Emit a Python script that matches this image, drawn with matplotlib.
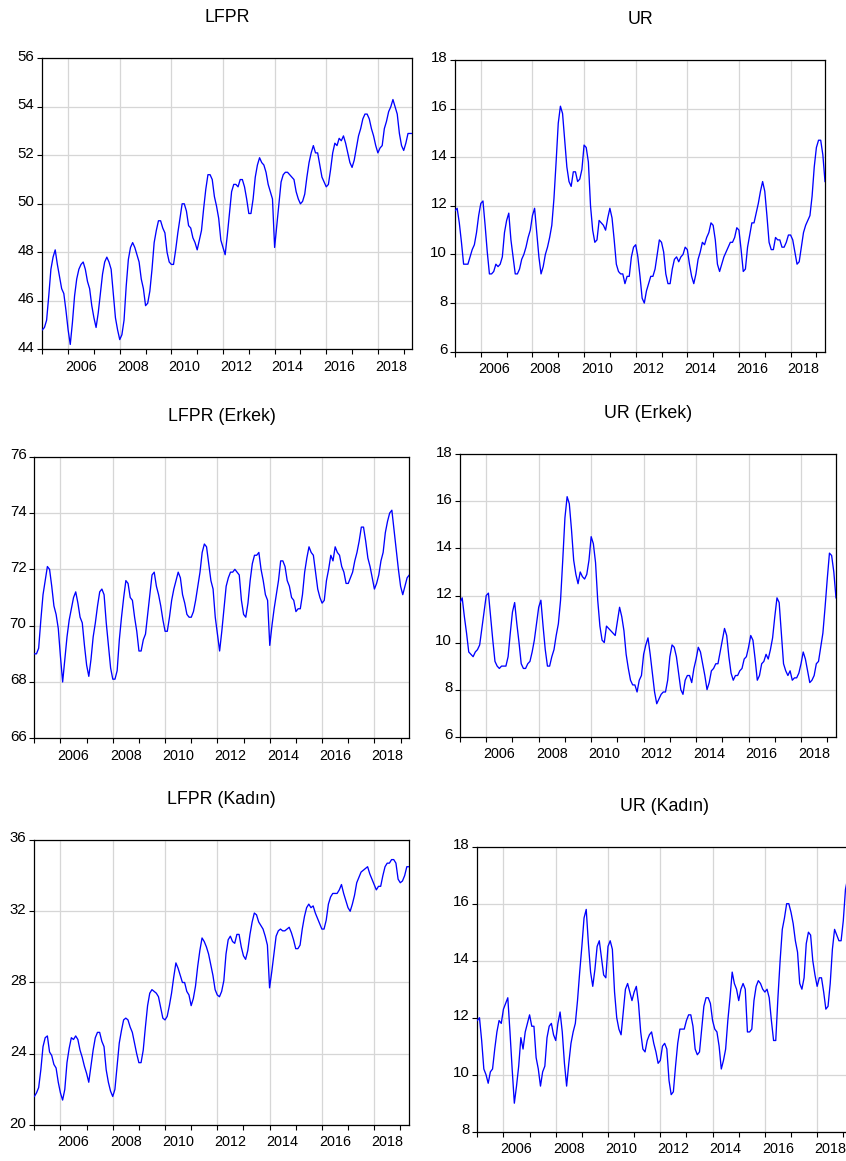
import matplotlib
matplotlib.use("Agg")
import matplotlib.pyplot as plt
import numpy as np
from matplotlib import font_manager
from matplotlib.transforms import ScaledTranslation

# ---------------- data (monthly, 2005M01 - 2019M05) ----------------
lfpr = [44.8, 44.9, 45.2, 46.2, 47.3, 47.8, 48.1, 47.5, 47.0, 46.5, 46.3, 45.6,
        44.8, 44.2, 45.1, 46.2, 46.9, 47.3, 47.5, 47.6, 47.3, 46.8, 46.5, 45.8,
        45.3, 44.9, 45.5, 46.3, 47.1, 47.6, 47.8, 47.6, 47.3, 46.3, 45.3, 44.8,
        44.4, 44.6, 45.2, 46.6, 47.7, 48.2, 48.4, 48.2, 47.9, 47.6, 46.9, 46.5,
        45.8, 45.9, 46.4, 47.3, 48.4, 48.9, 49.3, 49.3, 49.0, 48.8, 48.0, 47.6,
        47.5, 47.5, 48.1, 48.8, 49.4, 50.0, 50.0, 49.7, 49.1, 49.0, 48.6, 48.4,
        48.1, 48.5, 48.9, 49.8, 50.6, 51.2, 51.2, 51.0, 50.3, 49.9, 49.4, 48.5,
        48.2, 47.9, 48.7, 49.6, 50.5, 50.8, 50.8, 50.7, 51.0, 51.0, 50.7, 50.2,
        49.6, 49.6, 50.2, 51.1, 51.6, 51.9, 51.7, 51.6, 51.3, 50.8, 50.5, 50.2,
        48.2, 49.1, 50.0, 50.9, 51.2, 51.3, 51.3, 51.2, 51.1, 51.0, 50.5, 50.2,
        50.0, 50.1, 50.4, 51.1, 51.7, 52.1, 52.4, 52.1, 52.1, 51.6, 51.1, 50.9,
        50.7, 50.8, 51.4, 52.1, 52.5, 52.4, 52.7, 52.6, 52.8, 52.5, 52.1, 51.7,
        51.5, 51.8, 52.3, 52.8, 53.1, 53.5, 53.7, 53.7, 53.5, 53.1, 52.8, 52.4,
        52.1, 52.3, 52.4, 53.1, 53.4, 53.8, 54.0, 54.3, 54.0, 53.7, 52.9, 52.4,
        52.2, 52.5, 52.9, 52.9, 52.9]

ur = [11.8, 11.9, 11.3, 10.5, 9.6, 9.6, 9.6, 9.9, 10.2, 10.4, 10.9, 11.6,
      12.1, 12.2, 11.2, 10.1, 9.2, 9.2, 9.3, 9.6, 9.5, 9.6, 9.9, 10.9,
      11.4, 11.7, 10.6, 9.9, 9.2, 9.2, 9.4, 9.8, 10.0, 10.3, 10.7, 11.0,
      11.6, 11.9, 10.9, 9.9, 9.2, 9.5, 10.0, 10.3, 10.7, 11.2, 12.3, 13.8,
      15.4, 16.1, 15.8, 14.7, 13.6, 13.0, 12.8, 13.4, 13.4, 13.0, 13.1, 13.5,
      14.5, 14.4, 13.8, 12.0, 11.0, 10.5, 10.6, 11.4, 11.3, 11.2, 11.0, 11.5,
      11.9, 11.5, 10.6, 9.6, 9.3, 9.2, 9.2, 8.8, 9.1, 9.1, 9.9, 10.3,
      10.4, 9.9, 9.1, 8.2, 8.0, 8.5, 8.8, 9.1, 9.1, 9.4, 10.0, 10.6,
      10.5, 10.1, 9.2, 8.8, 8.8, 9.4, 9.8, 9.9, 9.7, 9.9, 10.0, 10.3,
      10.2, 9.6, 9.1, 8.8, 9.2, 9.8, 10.1, 10.5, 10.4, 10.7, 10.9, 11.3,
      11.2, 10.6, 9.6, 9.3, 9.6, 9.9, 10.1, 10.3, 10.5, 10.5, 10.7, 11.1,
      11.0, 10.2, 9.3, 9.4, 10.3, 10.8, 11.3, 11.3, 11.7, 12.1, 12.6, 13.0,
      12.6, 11.6, 10.5, 10.2, 10.2, 10.7, 10.6, 10.6, 10.3, 10.3, 10.5, 10.8,
      10.8, 10.6, 10.1, 9.6, 9.7, 10.3, 10.9, 11.2, 11.4, 11.6, 12.4, 13.6,
      14.4, 14.7, 14.7, 14.1, 13.0]

lfpr_erkek = [69.0, 69.0, 69.2, 70.2, 71.1, 71.6, 72.1, 72.0, 71.4, 70.7, 70.4, 69.9,
              68.9, 68.0, 68.8, 69.6, 70.2, 70.6, 71.0, 71.2, 70.8, 70.3, 70.1, 69.3,
              68.6, 68.2, 68.8, 69.6, 70.1, 70.7, 71.2, 71.3, 71.1, 70.1, 69.3, 68.5,
              68.1, 68.1, 68.4, 69.5, 70.3, 71.0, 71.6, 71.5, 71.0, 70.9, 70.3, 69.8,
              69.1, 69.1, 69.5, 69.7, 70.4, 71.1, 71.8, 71.9, 71.4, 71.1, 70.7, 70.2,
              69.8, 69.8, 70.3, 70.9, 71.3, 71.6, 71.9, 71.7, 71.1, 70.8, 70.4, 70.3,
              70.3, 70.5, 70.9, 71.4, 71.9, 72.6, 72.9, 72.8, 72.2, 71.6, 71.3, 70.3,
              69.7, 69.1, 69.8, 70.6, 71.4, 71.7, 71.9, 71.9, 72.0, 71.9, 71.8, 70.9,
              70.4, 70.3, 70.8, 71.6, 72.2, 72.5, 72.5, 72.6, 72.0, 71.6, 71.1, 70.9,
              69.3, 70.0, 70.6, 71.1, 71.6, 72.3, 72.3, 72.1, 71.6, 71.4, 71.0, 70.9,
              70.5, 70.6, 70.6, 71.1, 71.9, 72.4, 72.8, 72.6, 72.5, 71.9, 71.3, 71.0,
              70.8, 70.9, 71.6, 72.0, 72.5, 72.3, 72.8, 72.6, 72.5, 72.1, 71.9, 71.5,
              71.5, 71.7, 71.9, 72.3, 72.6, 73.0, 73.5, 73.5, 73.0, 72.4, 72.1, 71.7,
              71.3, 71.5, 71.8, 72.3, 72.6, 73.3, 73.7, 74.0, 74.1, 73.4, 72.7, 72.0,
              71.4, 71.1, 71.4, 71.7, 71.8]

ur_erkek = [11.7, 11.9, 11.1, 10.4, 9.6, 9.5, 9.4, 9.6, 9.7, 9.9, 10.6, 11.3,
            12.0, 12.1, 11.1, 10.1, 9.2, 9.0, 8.9, 9.0, 9.0, 9.0, 9.4, 10.4,
            11.3, 11.7, 10.8, 10.0, 9.1, 8.9, 8.9, 9.1, 9.2, 9.6, 10.1, 10.8,
            11.5, 11.8, 10.7, 9.7, 9.0, 9.0, 9.4, 9.7, 10.3, 10.8, 11.8, 13.5,
            15.3, 16.2, 15.9, 14.8, 13.5, 12.9, 12.5, 13.0, 12.8, 12.7, 12.9, 13.5,
            14.5, 14.2, 13.4, 11.8, 10.7, 10.1, 10.0, 10.7, 10.6, 10.5, 10.4, 10.3,
            10.9, 11.5, 11.1, 10.5, 9.5, 8.9, 8.4, 8.2, 8.2, 7.9, 8.4, 8.6,
            9.5, 9.9, 10.2, 9.5, 8.7, 7.9, 7.4, 7.6, 7.8, 7.9, 7.9, 8.4,
            9.4, 9.9, 9.8, 9.4, 8.7, 8.0, 7.8, 8.4, 8.6, 8.6, 8.3, 8.9,
            9.3, 9.8, 9.6, 9.1, 8.6, 8.0, 8.3, 8.8, 8.9, 9.1, 9.1, 9.6,
            10.1, 10.6, 10.3, 9.4, 8.7, 8.4, 8.6, 8.6, 8.8, 8.9, 9.3, 9.4,
            9.8, 10.3, 10.1, 9.3, 8.4, 8.6, 9.1, 9.2, 9.5, 9.3, 9.7, 10.2,
            11.1, 11.9, 11.7, 10.4, 9.1, 8.8, 8.6, 8.8, 8.4, 8.5, 8.5, 8.7,
            9.1, 9.6, 9.3, 8.8, 8.3, 8.4, 8.6, 9.1, 9.2, 9.8, 10.4, 11.5,
            12.7, 13.8, 13.7, 13.0, 11.9]

lfpr_kadin = [21.6, 21.8, 22.1, 23.1, 24.4, 24.9, 25.0, 24.1, 23.9, 23.4, 23.2, 22.4,
              21.8, 21.4, 22.0, 23.5, 24.3, 24.9, 24.8, 25.0, 24.8, 24.2, 23.8, 23.3,
              22.9, 22.4, 23.3, 24.2, 24.9, 25.2, 25.2, 24.7, 24.4, 23.1, 22.4, 21.9,
              21.6, 22.0, 23.3, 24.6, 25.3, 25.9, 26.0, 25.9, 25.5, 25.2, 24.6, 24.0,
              23.5, 23.5, 24.2, 25.5, 26.7, 27.4, 27.6, 27.5, 27.4, 27.2, 26.6, 26.0,
              25.9, 26.1, 26.7, 27.4, 28.3, 29.1, 28.8, 28.4, 28.0, 28.0, 27.5, 27.3,
              26.7, 27.1, 27.8, 28.9, 29.8, 30.5, 30.3, 30.0, 29.6, 29.0, 28.4, 27.6,
              27.3, 27.2, 27.5, 28.1, 29.6, 30.4, 30.6, 30.3, 30.2, 30.7, 30.7, 30.0,
              29.5, 29.3, 29.8, 30.7, 31.4, 31.9, 31.8, 31.4, 31.2, 31.0, 30.6, 30.1,
              27.7, 28.6, 29.6, 30.6, 30.9, 31.0, 30.9, 30.9, 31.0, 31.1, 30.8, 30.4,
              29.9, 29.9, 30.1, 31.0, 31.7, 32.2, 32.4, 32.2, 32.3, 31.9, 31.6, 31.3,
              31.0, 31.0, 31.5, 32.4, 32.8, 33.0, 33.0, 33.0, 33.2, 33.5, 33.0, 32.6,
              32.2, 32.0, 32.4, 32.9, 33.6, 33.9, 34.2, 34.3, 34.4, 34.5, 34.1, 33.8,
              33.5, 33.2, 33.4, 33.4, 34.0, 34.5, 34.7, 34.7, 34.9, 34.9, 34.7, 33.8,
              33.6, 33.7, 34.0, 34.5, 34.5]

ur_kadin = [11.9, 12.0, 11.2, 10.2, 10.0, 9.7, 10.1, 10.2, 10.9, 11.5, 11.9, 11.8,
            12.3, 12.5, 12.7, 11.5, 10.2, 9.0, 9.6, 10.3, 11.3, 10.9, 11.5, 11.8,
            12.1, 11.7, 11.7, 10.6, 10.2, 9.6, 10.1, 10.3, 11.3, 11.7, 11.8, 11.4,
            11.2, 11.8, 12.2, 11.5, 10.4, 9.6, 10.4, 11.1, 11.5, 11.8, 12.6, 13.6,
            14.5, 15.5, 15.8, 14.6, 13.6, 13.1, 13.7, 14.5, 14.7, 14.1, 13.5, 13.4,
            14.5, 14.7, 14.4, 12.9, 12.0, 11.6, 11.4, 12.2, 13.0, 13.2, 12.9, 12.6,
            12.9, 13.1, 12.5, 11.5, 10.9, 10.8, 11.2, 11.4, 11.5, 11.1, 10.8, 10.4,
            10.5, 11.0, 11.1, 10.9, 9.8, 9.3, 9.4, 10.3, 11.1, 11.6, 11.6, 11.6,
            11.9, 12.1, 12.1, 11.7, 10.9, 10.7, 10.8, 11.6, 12.4, 12.7, 12.7, 12.5,
            11.9, 11.6, 11.5, 11.0, 10.2, 10.5, 10.9, 11.9, 12.7, 13.6, 13.2, 13.0,
            12.6, 13.0, 13.2, 13.0, 11.5, 11.5, 11.6, 12.6, 13.1, 13.3, 13.2, 13.0,
            12.9, 13.0, 12.7, 11.9, 11.2, 11.2, 12.7, 14.0, 15.1, 15.5, 16.0, 16.0,
            15.7, 15.3, 14.7, 14.3, 13.2, 13.0, 13.4, 14.6, 15.0, 14.9, 14.0, 13.5,
            13.1, 13.4, 13.4, 12.9, 12.3, 12.4, 13.2, 14.4, 15.1, 14.9, 14.7, 14.7,
            15.4, 16.5, 16.9, 17.1, 17.0]

titles = ["LFPR", "UR", "LFPR (Erkek)", "UR (Erkek)", "LFPR (Kadın)", "UR (Kadın)"]
series = [lfpr, ur, lfpr_erkek, ur_erkek, lfpr_kadin, ur_kadin]
y_ticks = [list(range(44, 57, 2)), list(range(6, 19, 2)), list(range(66, 77, 2)),
           list(range(6, 19, 2)), list(range(20, 37, 4)), list(range(8, 19, 2))]
year_labels = [str(y) for y in range(2006, 2019, 2)]

# ---------------- layout ----------------
W, H = 846, 1161
# (left, top, right, bottom) in pixels
rects = [(42.3, 58.3, 412.3, 349.3),
         (455.0, 60.0, 825.0, 351.7),
         (34.3, 456.7, 409.3, 738.3),
         (460.0, 454.3, 836.0, 736.7),
         (34.3, 840.0, 409.0, 1125.0),
         (477.3, 846.7, 852.0, 1131.7)]

names = {f.name for f in font_manager.fontManager.ttflist}
base_font = "Liberation Sans" if "Liberation Sans" in names else "DejaVu Sans"
narrow_ok = "Liberation Sans Narrow" in names
narrow_font = "Liberation Sans Narrow" if narrow_ok else base_font
xlab_size = 10.8 if narrow_ok else 10.4
title_size = 14.0 if narrow_ok else 12.8

plt.rcParams["font.family"] = [base_font, "DejaVu Sans"]

fig = plt.figure(figsize=(W / 100, H / 100), dpi=100)
fig.patch.set_facecolor("white")

x0 = 2005.0
for title, vals, yt, (l, t, r, b) in zip(titles, series, y_ticks, rects):
    ax = fig.add_axes([l / W, 1 - b / H, (r - l) / W, (b - t) / H])
    x = x0 + np.arange(len(vals)) / 12.0
    ax.set_xlim(x0, x0 + 172 / 12.0)
    ax.set_ylim(yt[0], yt[-1])

    # grid
    ax.set_yticks(yt)
    ax.yaxis.grid(True, color="#d6d6d6", lw=0.9, zorder=0)
    for yr in range(2006, 2019, 2):
        ax.axvline(yr, color="#d6d6d6", lw=0.9, zorder=0)
    ax.set_axisbelow(True)

    ax.plot(x, vals, color="#0000ff", lw=0.95, zorder=3)

    # x ticks: marks every year, labels centred mid even years
    ax.set_xticks(list(range(2005, 2020)))
    ax.set_xticklabels([])
    ax.set_xticks([y + 0.5 for y in range(2006, 2019, 2)], minor=True)
    ax.set_xticklabels(year_labels, minor=True, fontsize=xlab_size,
                       family=[narrow_font, "DejaVu Sans"])
    ax.tick_params(axis="x", which="major", direction="out", length=3.6,
                   width=0.8, color="black")
    ax.tick_params(axis="x", which="minor", length=0, pad=7.5)

    ax.set_yticklabels([str(v) for v in yt], fontsize=10.8)
    ax.tick_params(axis="y", direction="out", length=3.6, width=0.8,
                   color="black", pad=2.0)
    off = ScaledTranslation(0, 3 / 100, fig.dpi_scale_trans)
    for lab in ax.get_yticklabels():
        lab.set_transform(lab.get_transform() + off)

    for sp in ax.spines.values():
        sp.set_color("black")
        sp.set_linewidth(0.9)

    ax.annotate(title, xy=(0.5, 1.0), xycoords="axes fraction",
                xytext=(0, 36 * 0.72), textcoords="offset points",
                ha="center", va="baseline", fontsize=title_size,
                family=[narrow_font, "DejaVu Sans"], annotation_clip=False)

fig.savefig("out.png", dpi=100, facecolor="white")
